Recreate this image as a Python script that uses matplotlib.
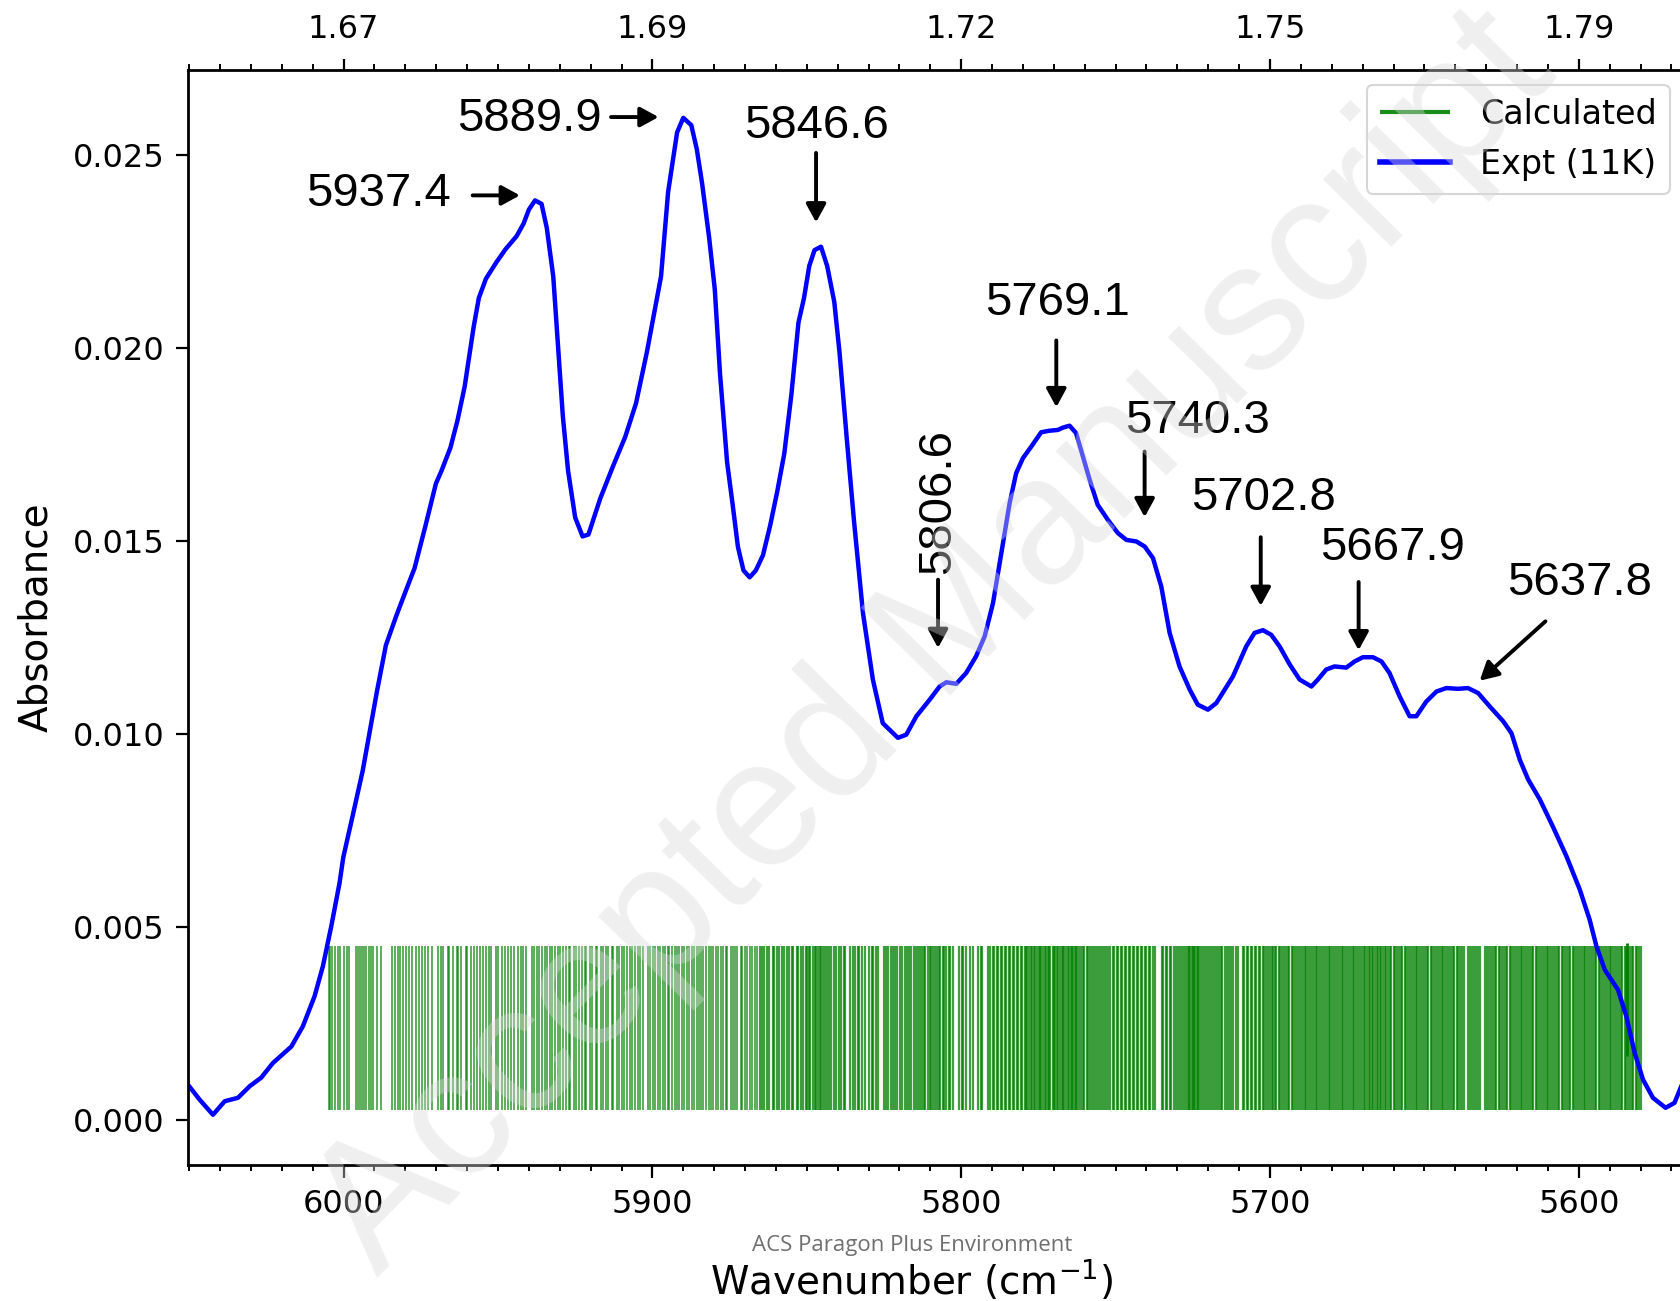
import matplotlib
matplotlib.use('Agg')
import matplotlib.pyplot as plt
from matplotlib.ticker import MultipleLocator, FixedLocator

wavenumber = [6050.4, 6046.6, 6042.3, 6038.5, 6034.2, 6030.4, 6026.7, 6022.9, 6016.9, 6013.2,
              6009.4, 6006.7, 6004.0, 6001.3, 6000.1, 5997.0, 5993.8, 5989.2, 5986.3, 5982.8,
              5979.9, 5977.0, 5973.5, 5970.1, 5968.3, 5965.4, 5963.1, 5960.8, 5957.9, 5956.2,
              5953.9, 5950.4, 5947.5, 5944.0, 5941.7, 5940.0, 5938.0, 5935.9, 5934.2, 5932.1,
              5930.7, 5929.0, 5927.3, 5925.0, 5922.6, 5920.7, 5916.9, 5912.8, 5908.8, 5905.3,
              5901.8, 5899.5, 5897.2, 5894.9, 5892.0, 5890.0, 5887.4, 5885.6, 5883.9, 5881.6,
              5879.8, 5878.1, 5875.8, 5874.0, 5872.3, 5870.5, 5868.5, 5866.5, 5864.2, 5861.9,
              5859.6, 5857.3, 5855.0, 5852.7, 5850.9, 5849.2, 5847.5, 5845.4, 5843.4, 5841.1,
              5839.4, 5837.1, 5834.7, 5831.8, 5828.6, 5825.4, 5820.5, 5817.8, 5814.5, 5810.2,
              5807.0, 5804.8, 5801.6, 5798.4, 5795.2, 5792.4, 5789.7, 5787.0, 5784.3, 5782.2,
              5780.0, 5777.3, 5774.1, 5771.4, 5768.7, 5767.1, 5764.9, 5762.8, 5760.6, 5758.4,
              5755.8, 5752.5, 5749.3, 5746.5, 5743.3, 5740.6, 5737.9, 5735.2, 5732.5, 5729.3,
              5726.0, 5723.4, 5720.1, 5717.4, 5712.0, 5707.7, 5705.0, 5702.3, 5699.6, 5696.9,
              5693.6, 5690.4, 5686.6, 5684.5, 5681.8, 5679.1, 5675.3, 5672.6, 5669.9, 5666.7,
              5663.9, 5661.3, 5658.0, 5654.8, 5652.6, 5649.4, 5646.1, 5642.9, 5639.1, 5635.9,
              5632.6, 5628.8, 5624.5, 5621.8, 5619.1, 5616.4, 5612.6, 5608.4, 5604.0, 5599.7,
              5596.5, 5594.3, 5591.6, 5587.3, 5584.6, 5581.9, 5579.2, 5576.0, 5571.9, 5569.0,
              5567.0, 5565.5]
absorbance = [0.00091, 0.00052, 0.00013, 0.00048, 0.00057, 0.00087, 0.00109, 0.00147, 0.0019, 0.00242,
              0.0032, 0.00398, 0.00501, 0.00614, 0.0068, 0.0079, 0.00905, 0.0111, 0.0123, 0.01309,
              0.0137, 0.0143, 0.01539, 0.01649, 0.01682, 0.01742, 0.01813, 0.0190, 0.02054, 0.0213,
              0.0218, 0.02224, 0.02257, 0.0229, 0.02323, 0.02359, 0.02383, 0.02374, 0.02312, 0.02186,
              0.02022, 0.01824, 0.01682, 0.01561, 0.01512, 0.01517, 0.0161, 0.01693, 0.0177, 0.01857,
              0.01989, 0.02087, 0.02186, 0.02405, 0.02559, 0.02597, 0.02578, 0.02515, 0.02427, 0.02285,
              0.02153, 0.01934, 0.01704, 0.01594, 0.01485, 0.01424, 0.01406, 0.01424, 0.01463, 0.01539,
              0.01627, 0.01726, 0.01879, 0.02066, 0.0213, 0.02213, 0.02254, 0.02263, 0.02213, 0.0212,
              0.01989, 0.0177, 0.01551, 0.01313, 0.01141, 0.01028, 0.0099, 0.00998, 0.01046, 0.01089,
              0.01123, 0.01134, 0.0113, 0.01158, 0.01201, 0.01253, 0.01339, 0.01469, 0.01599, 0.01676,
              0.01715, 0.01745, 0.01782, 0.01786, 0.01788, 0.01794, 0.01799, 0.0178, 0.01719, 0.01659,
              0.01594, 0.01555, 0.01521, 0.01503, 0.01499, 0.01486, 0.01456, 0.01382, 0.01262, 0.01175,
              0.01115, 0.01076, 0.01063, 0.0108, 0.01149, 0.01227, 0.01262, 0.01269, 0.01257, 0.01227,
              0.0118, 0.01141, 0.01123, 0.01141, 0.01167, 0.01175, 0.01172, 0.01188, 0.01199, 0.01199,
              0.01188, 0.01158, 0.01097, 0.01046, 0.01046, 0.01084, 0.0111, 0.01119, 0.01117, 0.01119,
              0.01106, 0.01071, 0.01033, 0.01002, 0.00933, 0.00882, 0.0083, 0.0076, 0.00683, 0.00597,
              0.00519, 0.0045, 0.00389, 0.00337, 0.00268, 0.00173, 0.00104, 0.00057, 0.00031, 0.00044,
              0.00083, 0.0012]

# --- Calculated line positions (stick spectrum), cm^-1 ---
sticks_a = [6004.8, 6004.3, 6003.6, 6002.7, 6001.9, 6001.3, 5999.8, 5999.0, 5998.1, 5996.0,
            5995.4, 5994.6, 5993.9, 5993.3, 5992.6, 5991.9, 5991.2, 5990.5, 5989.2, 5987.8]
sticks_b = [5984.2, 5983.5, 5982.4, 5981.8, 5980.6, 5979.7, 5978.8, 5977.9, 5976.4, 5975.7,
            5974.6, 5973.6, 5972.8, 5971.4, 5969.3, 5968.4, 5967.7, 5966.3, 5965.8, 5964.6,
            5963.4, 5962.8, 5961.9, 5960.5, 5959.9, 5958.8, 5957.8, 5956.7, 5955.7, 5955.0,
            5953.8, 5952.9, 5952.1, 5950.8, 5950.1, 5948.6, 5947.8, 5946.9, 5945.7, 5944.8,
            5943.6, 5942.7, 5941.8, 5940.9, 5938.9, 5938.3, 5937.4, 5936.7, 5935.8, 5934.9,
            5934.2, 5933.1, 5932.6, 5931.5, 5930.7, 5929.8, 5928.8, 5928.1, 5927.1, 5926.6,
            5925.3, 5924.8, 5923.8, 5922.9, 5921.9, 5921.4, 5920.1, 5919.6, 5918.3, 5917.8,
            5916.8, 5915.9, 5915.0, 5914.4, 5913.1, 5912.7, 5911.4, 5910.8, 5909.8, 5909.1,
            5908.1, 5907.4, 5906.5, 5905.6, 5904.7, 5904.0, 5903.1, 5901.3, 5900.7, 5899.7,
            5899.2, 5898.1, 5897.5, 5896.7, 5896.0, 5895.0, 5894.5, 5893.5, 5892.8, 5891.9,
            5891.3, 5890.4, 5889.7, 5888.8, 5888.2, 5887.2, 5886.6, 5885.7, 5885.0, 5884.1,
            5883.5, 5882.5, 5881.8, 5880.9, 5880.4, 5879.3, 5878.7, 5877.8, 5877.2, 5876.1,
            5875.7, 5874.6, 5874.0, 5873.1, 5872.5, 5871.4, 5870.9, 5869.9, 5869.2, 5868.3,
            5867.7, 5866.7, 5866.1]
sticks_c = [5865.2, 5864.4, 5863.7, 5862.8, 5862.2, 5861.1, 5860.6, 5859.7, 5859.0, 5858.0,
            5857.5, 5856.5, 5855.8, 5854.9, 5854.4, 5853.3, 5852.7, 5851.8, 5851.2, 5850.4,
            5849.9, 5849.2, 5848.8, 5848.1, 5847.5, 5847.1, 5846.4, 5845.8, 5845.3, 5844.6,
            5844.2, 5843.6, 5842.7, 5842.1, 5841.1, 5840.6, 5839.5, 5839.0, 5838.0, 5837.5,
            5835.9, 5835.1, 5834.5, 5833.5, 5833.0, 5832.0, 5831.3, 5829.9, 5829.0, 5828.5,
            5827.5, 5826.9, 5825.1, 5824.3, 5823.7, 5822.8, 5822.2, 5821.3, 5820.7, 5819.8,
            5819.2, 5818.3, 5817.7, 5816.8, 5816.2, 5815.3, 5814.7, 5813.9, 5813.2, 5812.8,
            5812.0, 5811.6, 5810.9, 5810.2, 5809.8, 5809.0, 5808.6, 5807.9, 5807.2, 5806.8,
            5806.0, 5805.6, 5804.9, 5804.0, 5803.5, 5802.8, 5800.6, 5799.8, 5799.3, 5798.4,
            5797.1, 5796.3, 5794.4, 5793.6, 5793.1, 5791.2, 5790.7, 5789.8, 5789.4, 5788.5,
            5788.1, 5787.2, 5786.8, 5785.9, 5785.5, 5784.6, 5784.2, 5783.3, 5782.9, 5782.0,
            5781.6, 5780.7, 5780.3, 5779.4, 5779.0, 5778.6, 5777.9, 5777.5, 5777.1, 5776.4,
            5776.0, 5775.6, 5774.9, 5774.5, 5774.1, 5773.4, 5773.0, 5772.6, 5771.9, 5771.5,
            5771.1, 5770.4, 5770.0, 5769.6, 5768.9, 5768.5, 5768.1, 5767.4, 5767.0, 5766.6,
            5765.9, 5765.4, 5765.0, 5764.6, 5764.2, 5763.8, 5763.3, 5762.9, 5762.4, 5761.8,
            5761.3, 5760.6, 5760.1, 5759.3, 5758.8, 5758.2, 5757.5, 5757.0, 5756.2, 5755.7,
            5755.0, 5754.4, 5753.7, 5753.1, 5752.3, 5751.8, 5751.0, 5750.5, 5749.7, 5749.1,
            5748.4, 5747.8, 5747.1, 5746.5, 5745.8, 5745.2, 5744.5, 5743.9, 5743.2, 5742.6,
            5741.9, 5741.3, 5740.6, 5740.0, 5739.3, 5738.7, 5738.0, 5737.3, 5735.0, 5734.5,
            5733.7, 5733.2, 5732.3, 5731.9, 5731.0, 5730.6, 5729.7, 5729.3, 5728.4, 5728.0,
            5727.2, 5726.7, 5726.2, 5725.8, 5725.4, 5725.0, 5724.6, 5724.2, 5723.8, 5723.4,
            5723.0, 5722.5, 5721.8, 5721.2, 5720.5, 5719.9, 5719.2, 5718.6, 5717.9, 5717.3,
            5716.6]
sticks_d = [5716.0, 5715.4, 5714.6, 5714.0, 5713.3, 5712.6, 5711.9, 5711.1, 5710.5, 5708.8,
            5708.3, 5707.6, 5707.0, 5706.2, 5705.7, 5704.9, 5704.4, 5703.6, 5703.1, 5702.4,
            5701.9, 5701.2, 5700.8, 5700.1, 5699.5, 5699.1, 5698.3, 5697.9, 5697.2, 5696.7,
            5696.0, 5695.4, 5694.9, 5694.2, 5693.7, 5693.0, 5692.4, 5691.9, 5691.1, 5690.6,
            5690.0, 5689.4, 5688.8, 5688.3, 5687.6, 5687.1, 5686.4, 5685.9, 5685.2, 5684.7,
            5684.0, 5683.5, 5682.8, 5682.2, 5681.7, 5681.0, 5680.5, 5679.8, 5679.3, 5678.6,
            5678.1, 5677.4, 5676.8, 5676.3, 5675.6, 5675.1, 5674.4, 5673.9, 5673.2, 5672.7,
            5672.0, 5671.4, 5670.9, 5670.2, 5669.7, 5669.1, 5668.5, 5668.0, 5667.5, 5667.0,
            5666.5, 5666.0, 5665.5, 5665.0, 5664.5, 5664.0, 5663.4, 5662.9, 5662.4, 5661.9,
            5661.2, 5660.7, 5660.0, 5659.5, 5658.8, 5658.3, 5657.6, 5657.1, 5656.4, 5655.9,
            5655.2, 5654.7, 5654.0, 5653.5, 5652.8, 5652.3, 5651.6, 5651.1, 5650.4, 5649.9,
            5649.2, 5648.7, 5648.0, 5647.5, 5646.8, 5646.3, 5645.6, 5645.1, 5644.4, 5643.9,
            5643.2, 5642.7, 5642.0, 5641.5, 5640.8, 5640.3, 5639.6, 5639.1, 5638.4, 5637.9,
            5637.3, 5635.9, 5635.3, 5634.6, 5634.0, 5633.3, 5632.7, 5632.1, 5630.3, 5629.6,
            5629.1, 5628.4, 5627.9, 5627.2, 5626.7, 5626.0, 5625.5, 5624.8, 5624.3, 5623.6,
            5623.1, 5622.4, 5621.9, 5621.2, 5620.7, 5620.0, 5619.5, 5618.8, 5618.3, 5617.6,
            5617.1, 5616.4, 5615.9, 5615.2, 5614.7, 5614.0, 5613.5, 5612.8, 5612.3, 5611.6,
            5611.1, 5610.4, 5609.9, 5609.2, 5608.7, 5608.0, 5607.5, 5606.8, 5606.3, 5605.6,
            5605.1, 5604.4, 5603.9, 5603.2, 5602.7, 5602.0, 5601.5, 5600.8, 5600.3, 5599.6,
            5599.1, 5598.4, 5597.9, 5597.2, 5596.7, 5596.0, 5595.5, 5594.8, 5594.3, 5593.6,
            5593.1, 5592.4, 5591.9, 5591.2, 5590.7, 5590.0, 5589.5, 5588.8, 5588.3, 5587.6,
            5587.1, 5586.4, 5585.9, 5585.2, 5584.7, 5584.0, 5583.5, 5582.8, 5582.3, 5581.6,
            5581.1, 5580.4, 5579.8]
stick_low, stick_high = 0.00025, 0.0045
tall_stick = [5584.4]
tall_low, tall_high = 0.00165, 0.00457

# --- Peak labels: text, text anchor, arrow tail and head ---
peak_labels = ['5937.4', '5889.9', '5846.6', '5806.6', '5769.1', '5740.3', '5702.8', '5667.9', '5637.8']
label_xy = [(5965.2, 0.02400), (5916.5, 0.02595), (5847.0, 0.02575), (5807.5, 0.01603),
            (5768.8, 0.02117), (5723.6, 0.01810), (5702.1, 0.01611), (5660.4, 0.01482),
            (5599.9, 0.01391)]
label_ha = ['right', 'right', 'center', 'center', 'center', 'center', 'center', 'center', 'center']
label_rot = [0, 0, 0, 90, 0, 0, 0, 0, 0]
arrow_tail = [(5958.2, 0.02396), (5913.4, 0.02599), (5847.0, 0.02506), (5807.5, 0.01400),
              (5769.2, 0.02020), (5740.6, 0.01732), (5703.0, 0.01510), (5671.3, 0.01394),
              (5610.8, 0.01292)]
arrow_head = [(5942.9, 0.02396), (5898.0, 0.02599), (5847.0, 0.02326), (5807.5, 0.01223),
              (5769.2, 0.01847), (5740.6, 0.01562), (5703.0, 0.01332), (5671.3, 0.01217),
              (5632.1, 0.01138)]

major_ticks = [6000, 5900, 5800, 5700, 5600]
top_labels = [f'{1e4 / t:.2f}' for t in major_ticks]  # wavelength in micrometres
y_ticks = [0.000, 0.005, 0.010, 0.015, 0.020, 0.025]

fig = plt.figure(figsize=(16.81, 13.01), dpi=100)
ax = fig.add_axes([0.1118, 0.1046, 0.8906, 0.8419])

# sparse part of the stick spectrum is thin and light, the dense part overlaps to solid green
ax.vlines(sticks_a + sticks_b, stick_low, stick_high, color='green', alpha=0.75, lw=1.2,
          label='Calculated')
ax.vlines(sticks_c + sticks_d, stick_low, stick_high, color='green', alpha=0.75, lw=1.6)
ax.vlines(tall_stick, tall_low, tall_high, color='green', lw=2.0)
ax.plot(wavenumber, absorbance, color='blue', lw=3.2, label='Expt (11K)')

ax.set_xlim(6050.4, 5565.6)
ax.set_ylim(-0.00117, 0.02722)

ax.xaxis.set_major_locator(FixedLocator(major_ticks))
ax.xaxis.set_minor_locator(MultipleLocator(10))
ax.set_yticks(y_ticks)
ax.set_yticklabels([f'{v:.3f}' for v in y_ticks])
ax.tick_params(axis='both', which='major', labelsize=23, length=9, width=1.6, pad=8)
ax.tick_params(axis='x', which='minor', length=4.5, width=1.4)
for side in ['left', 'bottom']:
    ax.spines[side].set_linewidth(2)
ax.spines['top'].set_visible(False)
ax.spines['right'].set_visible(False)

ax.set_xlabel('Wavenumber (cm$^{-1}$)', fontsize=28)
ax.xaxis.set_label_coords(0.4835, -0.085)
ax.xaxis.label.set_va('top')
ax.set_ylabel('Absorbance', fontsize=28)
ax.yaxis.set_label_coords(-0.089, 0.5)

# top axis in micrometres
ax2 = ax.twiny()
ax2.set_xlim(ax.get_xlim())
ax2.xaxis.set_major_locator(FixedLocator(major_ticks))
ax2.set_xticklabels(top_labels)
ax2.xaxis.set_minor_locator(MultipleLocator(10))
ax2.tick_params(axis='x', which='major', labelsize=23, length=8, width=1.6, pad=10)
ax2.tick_params(axis='x', which='minor', length=4, width=1.4)
ax2.spines['top'].set_linewidth(2)
for side in ['left', 'right', 'bottom']:
    ax2.spines[side].set_visible(False)

# peak annotations
for i, txt in enumerate(peak_labels):
    ax.text(label_xy[i][0], label_xy[i][1], txt, fontsize=34, ha=label_ha[i], va='center',
            rotation=label_rot[i], family=['Liberation Sans', 'DejaVu Sans'])
    ax.annotate('', xy=arrow_head[i], xytext=arrow_tail[i],
                arrowprops=dict(arrowstyle='-|>,head_length=0.55,head_width=0.3', color='black',
                                lw=2.8, mutation_scale=20, shrinkA=0, shrinkB=0))

leg = ax.legend(loc='upper right', fontsize=24, handlelength=2.1, borderaxespad=0.45,
                labelspacing=0.5, handletextpad=0.9)
leg.get_frame().set_linewidth(1.5)
leg.legend_handles[0].set_linewidth(3)
leg.legend_handles[0].set_alpha(0.9)
leg.legend_handles[1].set_linewidth(4)

# journal page decorations
fig.text(0.556, 0.505, 'Accepted Manuscript', rotation=45.5, fontsize=130, color='0.85',
         alpha=0.4, ha='center', va='center', family=['Liberation Sans', 'DejaVu Sans'], zorder=10)
fig.text(0.5427, 0.0425, 'ACS Paragon Plus Environment', fontsize=16, color='#6f6f6f',
         ha='center', va='center', family=['Open Sans', 'DejaVu Sans'])

fig.savefig('out.png', dpi=100)
